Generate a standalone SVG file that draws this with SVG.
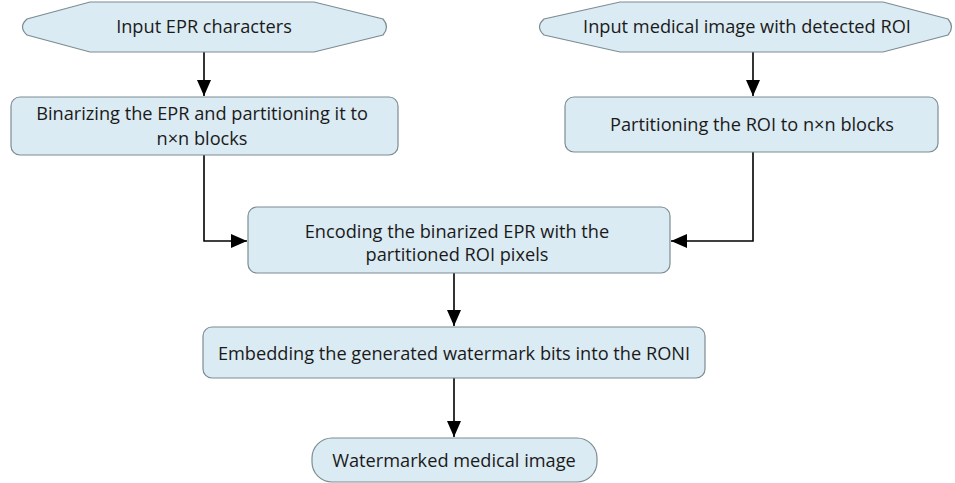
<svg xmlns="http://www.w3.org/2000/svg" width="955" height="483" viewBox="0 0 955 483">
  <defs>
    <marker id="arrow" viewBox="0 0 16 14" refX="16" refY="7" markerWidth="16" markerHeight="14" markerUnits="userSpaceOnUse" orient="auto">
      <path d="M0,0 L16,7 L0,14 Z" fill="#000"/>
    </marker>
    <style>
      .shape { fill: #dbebf3; stroke: #7d8c93; stroke-width: 1.2; }
      .label { font-family: "Open Sans", "Liberation Sans", sans-serif; font-size: 18.2px; fill: #1a1a1a; text-anchor: middle; }
      .conn { fill: none; stroke: #000; stroke-width: 1.6; }
    </style>
  </defs>
  <rect width="955" height="483" fill="#fff"/>

  <g id="connectors">
    <path class="conn" d="M204,52 V96" marker-end="url(#arrow)"/>
    <path class="conn" d="M753,52 V96" marker-end="url(#arrow)"/>
    <path class="conn" d="M204,155 V241 H247" marker-end="url(#arrow)"/>
    <path class="conn" d="M753,152 V241 H671" marker-end="url(#arrow)"/>
    <path class="conn" d="M454,273 V326" marker-end="url(#arrow)"/>
    <path class="conn" d="M454,378 V437" marker-end="url(#arrow)"/>
  </g>

  <g id="input-epr">
    <path class="shape" d="M90,2 H314 L383,19 Q390,27 383,35 L314,52 H90 L27,35 Q18,27 27,19 Z"/>
    <text class="label" x="204" y="33">Input EPR characters</text>
  </g>

  <g id="input-image">
    <path class="shape" d="M620,2 H883 L948,19 Q955,27 948,35 L883,52 H620 L544,35 Q535,27 544,19 Z"/>
    <text class="label" x="747" y="33">Input medical image with detected ROI</text>
  </g>

  <g id="binarize">
    <rect class="shape" x="11" y="97" width="387" height="58" rx="9"/>
    <text class="label" x="202" y="120">Binarizing the EPR and partitioning it to</text>
    <text class="label" x="202" y="145">n×n blocks</text>
  </g>

  <g id="partition">
    <rect class="shape" x="565" y="97" width="373" height="55" rx="9"/>
    <text class="label" x="752" y="131">Partitioning the ROI to n×n blocks</text>
  </g>

  <g id="encode">
    <rect class="shape" x="248" y="207" width="422" height="66" rx="9"/>
    <text class="label" x="457" y="238">Encoding the binarized EPR with the</text>
    <text class="label" x="457" y="261">partitioned ROI pixels</text>
  </g>

  <g id="embed">
    <rect class="shape" x="203" y="327" width="502" height="51" rx="9"/>
    <text class="label" x="454" y="360">Embedding the generated watermark bits into the RONI</text>
  </g>

  <g id="output">
    <rect class="shape" x="312" y="438" width="285" height="44" rx="20"/>
    <text class="label" x="454" y="467">Watermarked medical image</text>
  </g>
</svg>
